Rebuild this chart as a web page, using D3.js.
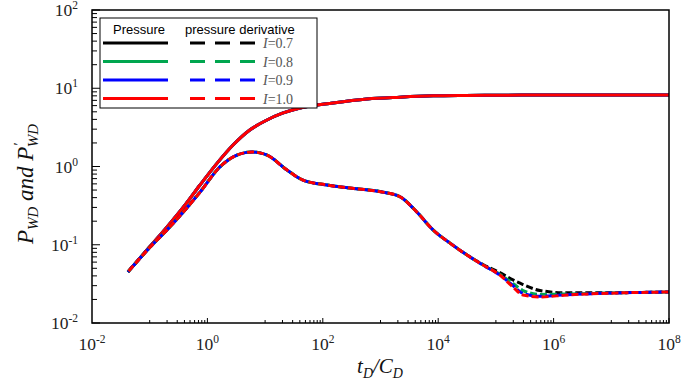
<!DOCTYPE html>
<html><head><meta charset="utf-8">
<script src="https://cdn.jsdelivr.net/npm/d3@7"></script>
<style>html,body{margin:0;padding:0;background:#fff;}svg{display:block;}</style>
</head><body>
<svg id="chart" width="685" height="381"></svg>
<script>
// ---------- data ----------
const seriesLabels = ["0.7", "0.8", "0.9", "1.0"];
const seriesColors = ["#000000", "#00a64f", "#0000ff", "#ff0000"];

const tPressure = [0.042, 0.1, 0.2, 0.42, 0.745, 1.5, 2.78, 5.5, 10.8, 20, 40.3, 150, 583, 2180, 8130, 3e4, 1.2e5, 1e6, 1e7, 1e8];
const pressure07 = [0.045, 0.094, 0.169, 0.33, 0.58, 1.12, 1.88, 2.95, 3.93, 4.8, 5.6, 6.5, 7.3, 7.7, 8.0, 8.1, 8.15, 8.2, 8.2, 8.2];
const pressure08 = [0.045, 0.094, 0.169, 0.33, 0.58, 1.12, 1.88, 2.95, 3.93, 4.8, 5.6, 6.5, 7.3, 7.7, 8.0, 8.1, 8.15, 8.2, 8.2, 8.2];
const pressure09 = [0.045, 0.094, 0.169, 0.33, 0.58, 1.12, 1.88, 2.95, 3.93, 4.8, 5.6, 6.5, 7.3, 7.7, 8.0, 8.1, 8.15, 8.2, 8.2, 8.2];
const pressure10 = [0.045, 0.094, 0.169, 0.33, 0.58, 1.12, 1.88, 2.95, 3.93, 4.8, 5.6, 6.5, 7.3, 7.7, 8.0, 8.1, 8.15, 8.2, 8.2, 8.2];

const tDerivative = [0.042, 0.1, 0.2, 0.745, 1.65, 3.26, 5.93, 10.8, 24, 45.4, 118, 295, 1100, 2180, 4300, 8130, 16000, 31600, 59700, 117000, 198000, 295000, 581000, 1.7e6, 1.26e7, 1e8];
const derivative07 = [0.045, 0.092, 0.155, 0.47, 0.99, 1.40, 1.53, 1.40, 0.90, 0.67, 0.58, 0.53, 0.47, 0.41, 0.26, 0.155, 0.105, 0.074, 0.056, 0.044, 0.0355, 0.031, 0.026, 0.0243, 0.0244, 0.0249];
const derivative08 = [0.045, 0.092, 0.155, 0.47, 0.99, 1.40, 1.53, 1.40, 0.90, 0.67, 0.58, 0.53, 0.47, 0.41, 0.26, 0.155, 0.105, 0.074, 0.055, 0.042, 0.032, 0.026, 0.0232, 0.0235, 0.0243, 0.0249];
const derivative09 = [0.045, 0.092, 0.155, 0.47, 0.99, 1.40, 1.53, 1.40, 0.90, 0.67, 0.58, 0.53, 0.47, 0.41, 0.26, 0.155, 0.105, 0.074, 0.055, 0.041, 0.030, 0.0238, 0.022, 0.023, 0.0242, 0.0249];
const derivative10 = [0.045, 0.092, 0.155, 0.47, 0.99, 1.40, 1.53, 1.40, 0.90, 0.67, 0.58, 0.53, 0.47, 0.41, 0.26, 0.155, 0.105, 0.074, 0.055, 0.041, 0.0288, 0.0228, 0.0215, 0.0228, 0.0242, 0.0249];

const xTickExponents = [-2, 0, 2, 4, 6, 8];
const yTickExponents = [-2, -1, 0, 1, 2];
const xMinorDecades = [1e-1, 1e1, 1e3, 1e5, 1e7];
const yMinorDecades = [1e-2, 1e-1, 1e0, 1e1];

// ---------- layout ----------
const svg = d3.select("#chart");
const mLeft = 92, mRight = 669, mTop = 10, mBottom = 323;
const x = d3.scaleLog().domain([1e-2, 1e8]).range([mLeft, mRight]);
const y = d3.scaleLog().domain([1e-2, 1e2]).range([mBottom, mTop]);

const serif = "'Liberation Serif','Times New Roman',serif";
const sans = "'Liberation Sans',Arial,sans-serif";

// ---------- curves ----------
const pressures = [pressure07, pressure08, pressure09, pressure10];
const derivs = [derivative07, derivative08, derivative09, derivative10];
const line = d3.line().x(d => x(d[0])).y(d => y(d[1])).curve(d3.curveMonotoneX);
const plot = svg.append("g");
pressures.forEach((arr, i) => {
  plot.append("path").attr("d", line(tPressure.map((t, k) => [t, arr[k]])))
    .attr("fill", "none").attr("stroke", seriesColors[i]).attr("stroke-width", 3);
});
derivs.forEach((arr, i) => {
  plot.append("path").attr("d", line(tDerivative.map((t, k) => [t, arr[k]])))
    .attr("fill", "none").attr("stroke", seriesColors[i]).attr("stroke-width", 3)
    .attr("stroke-dasharray", "7,3").attr("stroke-dashoffset", i * 3);
});

// ---------- frame ----------
svg.append("rect").attr("x", mLeft).attr("y", mTop).attr("width", mRight - mLeft).attr("height", mBottom - mTop)
  .attr("fill", "none").attr("stroke", "#000").attr("stroke-width", 1.5);

// x ticks (inside)
const xt = svg.append("g").attr("stroke", "#000").attr("stroke-width", 1);
xMinorDecades.forEach(d => {
  for (let j = 1; j <= 10; j++) {
    const v = d * j, len = j === 10 ? 5 : 3;
    xt.append("line").attr("x1", x(v)).attr("x2", x(v)).attr("y1", mBottom).attr("y2", mBottom - len);
  }
});
// y ticks (inside)
const yt = svg.append("g").attr("stroke", "#000").attr("stroke-width", 1);
yMinorDecades.forEach(d => {
  for (let j = 1; j <= 9; j++) {
    const v = d * j, len = j === 1 ? 8 : 5;
    yt.append("line").attr("x1", mLeft).attr("x2", mLeft + len).attr("y1", y(v)).attr("y2", y(v));
  }
});
yt.append("line").attr("x1", mLeft).attr("x2", mLeft + 8).attr("y1", y(1e2)).attr("y2", y(1e2));

// tick labels
function powLabel(g, e) {
  g.append("tspan").text("10");
  g.append("tspan").attr("dy", -7).attr("font-size", 11.5).text(String(e));
}
xTickExponents.forEach(e => {
  const t = svg.append("text").attr("x", x(Math.pow(10, e))).attr("y", 350)
    .attr("text-anchor", "middle").attr("font-family", serif).attr("font-size", 17.5).attr("fill", "#222");
  powLabel(t, e);
});
yTickExponents.forEach(e => {
  const t = svg.append("text").attr("x", 78).attr("y", y(Math.pow(10, e)) + 6)
    .attr("text-anchor", "end").attr("font-family", serif).attr("font-size", 17.5).attr("fill", "#222");
  powLabel(t, e);
});

// axis titles
const xt2 = svg.append("text").attr("x", 380).attr("y", 373).attr("text-anchor", "middle")
  .attr("font-family", serif).attr("font-size", 21).attr("font-style", "italic").attr("fill", "#111");
xt2.append("tspan").text("t");
xt2.append("tspan").attr("dy", 5).attr("font-size", 14).text("D");
xt2.append("tspan").attr("dy", -5).text("/C");
xt2.append("tspan").attr("dy", 5).attr("font-size", 14).text("D");

const yTitle = svg.append("text").attr("transform", "translate(33,184) rotate(-90)").attr("text-anchor", "middle")
  .attr("font-family", serif).attr("font-size", 23).attr("font-style", "italic").attr("fill", "#111");
yTitle.append("tspan").text("P");
yTitle.append("tspan").attr("dy", 5).attr("font-size", 15).text("WD");
yTitle.append("tspan").attr("dy", -5).text(" and P");
yTitle.append("tspan").attr("dy", -9).attr("font-size", 15).text("′");
yTitle.append("tspan").attr("dy", 14).attr("dx", -4).attr("font-size", 15).text("WD");

// ---------- legend ----------
const lg = svg.append("g");
lg.append("rect").attr("x", 100).attr("y", 18).attr("width", 217).attr("height", 90)
  .attr("fill", "#fff").attr("stroke", "#000").attr("stroke-width", 1);
lg.append("text").attr("x", 113).attr("y", 34).attr("font-family", sans).attr("font-size", 13).attr("fill", "#000").text("Pressure");
lg.append("text").attr("x", 185).attr("y", 34).attr("font-family", sans).attr("font-size", 13).attr("fill", "#000").text("pressure derivative");
seriesLabels.forEach((lab, i) => {
  const yy = 43 + i * 18.5;
  lg.append("line").attr("x1", 103).attr("x2", 168).attr("y1", yy).attr("y2", yy)
    .attr("stroke", seriesColors[i]).attr("stroke-width", 3);
  lg.append("line").attr("x1", 190).attr("x2", 255).attr("y1", yy).attr("y2", yy)
    .attr("stroke", seriesColors[i]).attr("stroke-width", 3).attr("stroke-dasharray", "15,10");
  const t = lg.append("text").attr("x", 263).attr("y", yy + 5).attr("font-family", serif)
    .attr("font-size", 14).attr("fill", "#555");
  t.append("tspan").attr("font-style", "italic").text("I");
  t.append("tspan").text("=" + lab);
});
</script>
</body></html>
